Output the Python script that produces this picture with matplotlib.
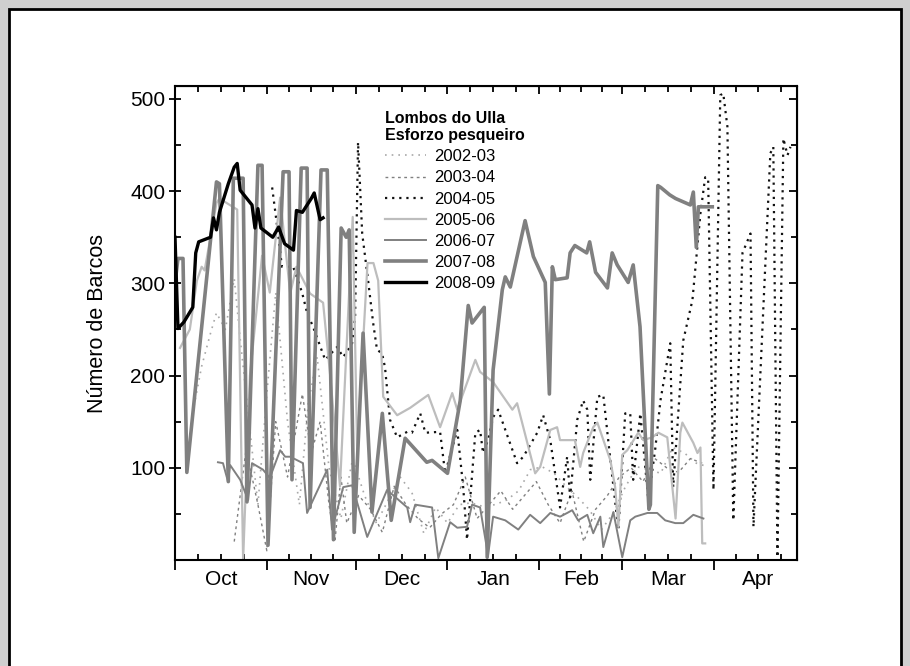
import numpy as np
import matplotlib.pyplot as plt
from matplotlib.patches import Rectangle

plt.rcParams['font.family'] = ['Liberation Sans', 'DejaVu Sans']

# x = days since 1 October
months = ['Oct', 'Nov', 'Dec', 'Jan', 'Feb', 'Mar', 'Apr']
month_len = [31, 30, 31, 31, 28, 31, 30]

d02 = [6, 9, 12, 14, 17, 20, 22, 25, 28, 31, 34, 38, 42, 45, 48, 52, 56, 60, 64, 68, 72,
       76, 80, 84, 88, 92, 96, 100, 104, 108, 112, 116, 120, 124, 128, 132, 136, 140,
       144, 148, 152, 156, 160, 164, 168, 172, 176, 180]
v02 = [160, 210, 246, 268, 250, 305, 240, 150, 60, 180, 290, 150, 60, 170, 220, 100, 45,
       110, 70, 40, 65, 90, 73, 29, 57, 40, 60, 62, 58, 60, 65, 75, 98, 101, 94, 80, 68,
       54, 33, 51, 79, 101, 98, 94, 122, 116, 105, 101]

d03 = [20, 24, 28, 31, 34, 38, 43, 46, 49, 52, 54, 56, 58, 62, 66, 70, 74, 78, 82, 86, 90,
       94, 98, 102, 106, 110, 114, 118, 122, 126, 130, 134, 138, 142, 146, 150, 154, 158,
       162, 166, 170, 174, 178]
v03 = [20, 120, 60, 10, 150, 90, 180, 116, 150, 60, 20, 90, 40, 70, 55, 30, 80, 60, 45,
       35, 50, 60, 90, 45, 60, 75, 55, 70, 85, 60, 40, 75, 20, 55, 70, 90, 100, 85, 110,
       100, 95, 110, 105]

d04 = [32.8, 34.8, 36.1, 39.9, 42.9, 44.6, 46.6, 50.7, 54.7, 56.8, 59.8, 60.8, 61.8, 63.2,
       65.2, 66.9, 68.2, 69.9, 70.9, 72.6, 75, 78.4, 80, 82.8, 84.5, 89.5, 91.2, 95.3,
       97.3, 98.6, 101.4, 103, 104, 105.7, 107.4, 109.1, 115.5, 117.6, 122.3, 124.3,
       126.7, 130, 132.4, 133.4, 135.8, 137.8, 139.2, 140.2, 142.6, 144.6, 147, 149.7,
       152, 153.7, 154.7, 157.1, 159.8, 162.2, 163.9, 167.2, 168.2, 171.6, 174.7, 177.4,
       179, 180, 181.8, 184.1, 185.1, 186.5, 188.5, 191.6, 194.3, 195.3, 201, 202, 203.4,
       205.4, 206.8, 207.8]
v04 = [404, 354, 318, 318, 290, 268, 253, 217, 231, 220, 235, 263, 453, 354, 303, 257,
       228, 224, 209, 152, 133, 139, 138, 159, 138, 139, 94, 141, 79, 22, 138, 141, 116,
       130, 155, 163, 105, 112, 138, 157, 130, 57, 112, 68, 152, 173, 163, 87, 177, 179,
       108, 33, 159, 159, 87, 159, 65, 122, 173, 235, 79, 238, 282, 376, 415, 414, 76,
       504, 506, 470, 43, 333, 354, 36, 441, 448, 3, 457, 439, 448]

d05 = [1.7, 5, 7.4, 9, 10, 14, 15, 21, 23, 25.3, 29.4, 32, 35.5, 38.9, 41, 45.6, 50, 52.4,
       55.7, 60, 61.5, 65, 67, 68.6, 70.3, 75, 79.4, 82, 85.5, 89.5, 93.6, 95.3, 101.4,
       103, 107.4, 113.9, 115.5, 121.6, 123.3, 126.7, 129, 130, 135, 136.8, 137.8, 141.2,
       142.6, 147, 148.6, 149.7, 151, 152.7, 156.4, 158.1, 161.1, 163.2, 166.2, 169,
       170.6, 171.3, 175, 176.4, 177.4, 178, 179]
v05 = [230, 250, 303, 318, 314, 387, 392, 380, 0, 200, 330, 290, 393, 289, 318, 289, 279,
       200, 80, 372, 120, 322, 322, 303, 177, 157, 165, 171, 179, 144, 181, 163, 217, 204,
       193, 163, 170, 94, 101, 141, 144, 130, 130, 101, 116, 144, 149, 108, 79, 36, 114,
       119, 138, 130, 133, 138, 133, 45, 138, 149, 127, 116, 122, 18, 18]

d06 = [14.5, 16.2, 17.9, 18.6, 22, 24.7, 26, 29.7, 32, 35.5, 37.2, 38.9, 43.2, 44.6, 46.6,
       51.4, 53, 56.8, 59.8, 64.9, 71.6, 78.4, 79.4, 81.1, 86.8, 88.9, 92.9, 95.3, 98.6,
       100.3, 103, 105.7, 107.4, 111.5, 115.9, 119.9, 123.3, 126.7, 130, 132.4, 134.1,
       136.1, 139.2, 141.2, 143.6, 144.6, 148, 151, 153.7, 155.4, 159.5, 162.8, 165.5,
       168.9, 171.6, 175, 178.4]
v06 = [106, 105, 85, 103, 87, 65, 105, 98, 89, 119, 112, 112, 105, 51, 65, 98, 33, 79, 81,
       25, 76, 57, 41, 60, 57, 2, 41, 35, 36, 60, 57, 5, 47, 43, 33, 49, 40, 51, 47, 51,
       54, 43, 49, 29, 47, 14, 52, 3, 43, 47, 51, 51, 43, 40, 40, 49, 45]

d07 = [0, 1, 2.7, 4, 14, 15, 18, 19.7, 23, 24.3, 28, 29.4, 31.4, 36.5, 38.5, 39.5, 42.6,
       44.6, 45.6, 49.3, 51.4, 53.5, 56.1, 57.8, 58.8, 60.5, 63.5, 66.5, 70, 73, 77.7, 85,
       86.8, 92, 96.3, 99, 100.3, 104.4, 105.4, 107.4, 110.5, 111.5, 113.2, 118.2, 121,
       125, 126.4, 127.4, 128.4, 132.4, 133.4, 135, 139, 140, 142, 146, 147.6, 149.3, 153,
       154.7, 157, 160, 160.5, 163, 164, 167, 169, 174, 175, 176, 176.7, 181.4]
v07 = [300, 327, 327, 95, 410, 408, 85, 414, 414, 63, 428, 428, 16, 421, 421, 87, 425, 425,
       57, 423, 423, 22, 360, 350, 358, 30, 246, 52, 159, 43, 132, 106, 108, 94, 173, 276,
       257, 274, 3, 206, 293, 307, 296, 368, 329, 301, 180, 318, 304, 306, 333, 341, 333,
       345, 312, 295, 333, 320, 301, 320, 253, 55, 60, 406, 404, 396, 392, 385, 399, 339,
       383, 383]

d08 = [0, 1, 3, 6, 7, 8, 12, 13, 14, 15, 18, 20, 21, 22, 26, 27, 28, 29, 33, 35, 37, 40,
       41, 43, 46, 47, 49, 50]
v08 = [350, 251, 258, 274, 333, 345, 350, 371, 358, 377, 408, 426, 430, 401, 385, 360, 381,
       360, 350, 361, 343, 336, 379, 377, 392, 398, 369, 371]

series = [
    ('2002-03', d02, v02, dict(color='#a8a8a8', lw=1.2, ls=(0, (1, 3)))),
    ('2003-04', d03, v03, dict(color='#808080', lw=1.0, ls=(0, (2, 2.5)))),
    ('2004-05', d04, v04, dict(color='#111111', lw=1.6, ls=(0, (1, 2.2)))),
    ('2005-06', d05, v05, dict(color='#bdbdbd', lw=1.6, ls='-')),
    ('2006-07', d06, v06, dict(color='#808080', lw=1.4, ls='-')),
    ('2007-08', d07, v07, dict(color='#808080', lw=2.6, ls='-')),
    ('2008-09', d08, v08, dict(color='#000000', lw=2.4, ls='-')),
]

fig = plt.figure(figsize=(9.1, 6.66), dpi=100)
fig.patch.set_facecolor('#cfcfcf')
fig.patches.append(Rectangle((9 / 910, -0.05), 892 / 910, 1.05 - 9 / 666,
                             transform=fig.transFigure, facecolor='white',
                             edgecolor='black', lw=2, zorder=-5))

ax = fig.add_axes([175 / 910, 1 - 560 / 666, 622 / 910, 474 / 666])
ax.set_zorder(2)
for name, d, v, st in series:
    ax.plot(d, v, label=name, **st)

ax.set_xlim(0, 210)
ax.set_ylim(0, 514)

starts = np.concatenate([[0], np.cumsum(month_len)[:-1]])
minor = [s + k * L / 4 for s, L in zip(starts, month_len) for k in (1, 2, 3)]
ax.set_xticks(starts)
ax.set_xticklabels([])
ax.set_xticks(minor, minor=True)
for s, L, m in zip(starts, month_len, months):
    ax.text(s + L / 2, -0.022, m, transform=ax.get_xaxis_transform(),
            ha='center', va='top', fontsize=15)

ax.set_yticks([100, 200, 300, 400, 500])
ax.set_yticks(np.arange(50, 514, 50), minor=True)
ax.tick_params(axis='x', which='major', direction='out', length=7, width=1.3)
ax.tick_params(axis='x', which='minor', direction='in', length=4, width=1.3)
ax.tick_params(axis='y', which='major', direction='inout', length=8, width=1.3,
               labelsize=15, pad=3)
ax.tick_params(axis='y', which='minor', direction='in', length=4, width=1.3)
for sp in ax.spines.values():
    sp.set_linewidth(1.5)

top = ax.secondary_xaxis('top')
top.set_xticks(starts)
top.set_xticks(minor, minor=True)
top.tick_params(which='major', direction='in', length=6, width=1.3, labeltop=False)
top.tick_params(which='minor', direction='in', length=4, width=1.3)
right = ax.secondary_yaxis('right')
right.set_yticks([100, 200, 300, 400, 500])
right.set_yticks(np.arange(50, 514, 50), minor=True)
right.tick_params(which='major', direction='in', length=6, width=1.3, labelright=False)
right.tick_params(which='minor', direction='in', length=4, width=1.3)

ax.set_ylabel('Número de Barcos', fontsize=15.5, labelpad=16)

leg = ax.legend(loc='upper left', bbox_to_anchor=(0.3265, 0.962), frameon=False,
                fontsize=12, handlelength=2.5, handletextpad=0.45,
                labelspacing=0.37, borderaxespad=0,
                title='Lombos do Ulla\nEsforzo pesqueiro',
                title_fontproperties={'weight': 'bold', 'size': 11.5},
                alignment='left')

fig.savefig('out.png', dpi=100, facecolor=fig.get_facecolor())
